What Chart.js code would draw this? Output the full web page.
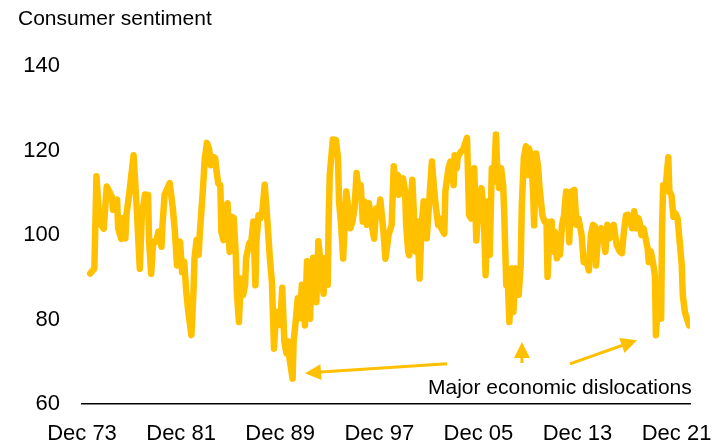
<!DOCTYPE html>
<html>
<head>
<meta charset="utf-8">
<title>Consumer sentiment</title>
<script src="https://cdn.jsdelivr.net/npm/chart.js@4.4.1/dist/chart.umd.min.js"></script>
<style>
  html, body { margin: 0; padding: 0; background: #fff; }
  canvas { display: block; }
</style>
</head>
<body>
<canvas id="chart" width="712" height="444"></canvas>
<script>
"use strict";

/* ── Data (months counted from Dec 1973) ─────────────────── */
const months = [
  8, 12, 14, 17, 21, 24, 27, 29, 30, 34, 35, 38, 40, 42, 43, 46, 50, 53, 56, 58,
  61, 64, 65, 67, 69, 72, 74, 77, 78, 80, 85, 88, 90, 92, 95, 97, 99, 101, 103, 106,
  108, 109, 111, 113, 114, 117, 119, 121, 123, 125, 127, 129, 130, 132, 134, 135, 137, 138, 141, 143,
  145, 147, 149, 150, 152, 154, 156, 158, 159, 162, 164, 166, 168, 169, 171, 173, 175, 177, 179, 182,
  184, 186, 188, 190, 192, 194, 196, 198, 200, 201, 204, 205, 207, 209, 211, 213, 214, 216, 218, 219,
  221, 222, 224, 226, 227, 229, 230, 232, 234, 235, 238, 239, 240, 243, 246, 248, 249, 251, 253, 256,
  258, 260, 262, 264, 266, 268, 270, 272, 274, 276, 278, 280, 283, 285, 287, 289, 292, 294, 297, 300,
  302, 304, 306, 307, 309, 311, 313, 314, 316, 317, 318, 320, 322, 323, 325, 327, 329, 331, 333, 334,
  337, 339, 341, 343, 345, 347, 348, 351, 352, 355, 357, 360, 361, 363, 364, 367, 369, 373, 375, 377,
  380, 382, 384, 387, 389, 391, 393, 395, 397, 399, 401, 402, 404, 406, 408, 409, 411, 412, 414, 415,
  417, 418, 420, 422, 423, 425, 426, 428, 430, 432, 433, 435, 437, 438, 440, 442, 443, 446, 448, 450,
  451, 453, 455, 456, 458, 460, 461, 463, 465, 467, 469, 471, 472, 474, 477, 479, 481, 484, 486, 488,
  491, 493, 495, 497, 498, 500, 503, 505, 507, 509, 511, 513, 515, 517, 518, 521, 523, 525, 527, 529,
  531, 533, 535, 537, 539, 540, 542, 544, 546, 548, 549, 551, 553, 555, 556, 558, 561, 562, 563, 565,
  568, 569, 571, 573, 575, 577, 579, 581, 582, 584, 585, 588
];

const sentiment = [
  90.9, 92.1, 113.9, 103.0, 101.5, 111.5, 110.0, 109.0, 106.0, 108.4, 101.6, 99.1, 104.0, 99.2, 104.7, 110.3, 118.9, 106.3, 92.0, 104.7,
  109.6, 109.5, 98.4, 90.8, 98.4, 98.4, 100.8, 97.2, 102.4, 109.5, 112.3, 106.3, 100.8, 92.8, 98.4, 91.2, 93.7, 86.6, 81.8, 76.3,
  86.6, 94.5, 98.8, 95.3, 100.0, 110.3, 118.2, 121.8, 120.5, 116.5, 118.5, 118.2, 115.8, 112.2, 111.8, 100.8, 98.8, 106.3, 107.5, 96.0,
  104.3, 104.0, 95.3, 86.6, 79.4, 89.7, 85.8, 88.2, 94.5, 98.1, 98.4, 103.2, 88.1, 98.4, 104.7, 104.0, 106.3, 111.9, 105.5, 94.5,
  88.9, 73.1, 81.8, 81.8, 78.7, 87.5, 74.8, 72.0, 74.8, 70.8, 66.0, 74.8, 79.5, 85.0, 80.3, 88.2, 85.0, 78.6, 93.8, 90.5,
  80.2, 90.5, 94.6, 86.6, 84.1, 98.5, 96.1, 90.5, 86.1, 94.5, 88.2, 104.0, 114.2, 122.6, 122.5, 118.2, 107.9, 102.4, 94.4, 110.3,
  106.3, 101.6, 103.2, 106.3, 114.7, 110.3, 111.8, 103.2, 107.9, 102.4, 107.5, 103.2, 99.1, 106.3, 104.7, 108.4, 100.8, 94.4, 100.0, 102.4,
  116.3, 110.3, 114.2, 109.5, 112.6, 113.4, 110.3, 102.4, 96.1, 95.2, 106.3, 113.1, 102.4, 96.1, 103.2, 89.7, 102.4, 108.0, 102.4, 99.2,
  110.3, 117.4, 111.1, 106.3, 102.4, 103.9, 101.6, 100.3, 110.3, 115.8, 117.4, 111.8, 118.9, 115.8, 118.5, 119.7, 120.1, 123.0, 104.7, 103.9,
  115.8, 98.7, 106.3, 111.1, 106.3, 90.5, 107.9, 95.3, 115.8, 112.6, 123.8, 117.4, 111.1, 115.8, 111.8, 105.5, 88.1, 92.1, 79.4, 85.0,
  92.1, 81.8, 92.1, 86.6, 85.8, 92.9, 106.3, 118.2, 121.0, 114.2, 120.5, 118.9, 110.3, 102.3, 119.3, 115.8, 111.8, 104.7, 103.2, 103.2,
  90.1, 100.8, 103.2, 96.1, 100.8, 94.5, 97.6, 95.3, 102.4, 104.7, 110.3, 104.7, 98.3, 110.3, 110.7, 102.4, 103.9, 100.0, 93.6, 94.5,
  91.6, 100.0, 102.4, 102.0, 92.8, 100.0, 101.6, 100.0, 96.0, 102.4, 99.2, 101.6, 102.4, 99.2, 97.6, 96.1, 95.7, 100.8, 104.7, 104.8,
  103.2, 101.6, 105.6, 101.6, 104.0, 103.2, 100.0, 101.6, 99.2, 96.8, 93.6, 96.1, 93.7, 90.5, 76.3, 85.0, 80.2, 102.4, 111.8, 110.3,
  118.4, 110.3, 109.5, 104.3, 105.1, 103.9, 98.4, 92.9, 85.8, 81.8, 81.0, 78.6
];

const tickMonths = [0, 96, 192, 288, 384, 480, 576];
const tickLabels = ['Dec 73', 'Dec 81', 'Dec 89', 'Dec 97', 'Dec 05', 'Dec 13', 'Dec 21'];
const yTicks     = [60, 80, 100, 120, 140];

/* Annotation arrows in data units: [fromMonth, fromValue, toMonth, toValue] */
const arrows = [
  [353.6, 69.5, 216.0, 67.3],
  [426.2, 69.7, 426.2, 74.7],
  [472.7, 69.5, 537.6, 75.1],
];
const noteText  = 'Major economic dislocations';
const notePos   = [335.2, 63.8];

/* ── Styles ──────────────────────────────────────────────── */
const GOLD = '#FFC000';
const FONT = '"Liberation Sans", Arial, sans-serif';

/* ── Annotation plugin: header + arrows + note ───────────── */
const annotations = {
  id: 'annotations',
  afterDatasetsDraw(chart) {
    const { ctx, scales: { x, y } } = chart;
    ctx.save();

    ctx.fillStyle = '#000';
    ctx.font = `21px ${FONT}`;
    ctx.textBaseline = 'middle';
    ctx.textAlign = 'left';
    ctx.fillText('Consumer sentiment', 18, 19);

    ctx.fillText(noteText, x.getPixelForValue(notePos[0]), y.getPixelForValue(notePos[1]));

    ctx.strokeStyle = GOLD;
    ctx.fillStyle = GOLD;
    ctx.lineWidth = 3;
    arrows.forEach(([m0, v0, m1, v1]) => {
      const x0 = x.getPixelForValue(m0), y0 = y.getPixelForValue(v0);
      const x1 = x.getPixelForValue(m1), y1 = y.getPixelForValue(v1);
      const ang = Math.atan2(y1 - y0, x1 - x0);
      const head = 16, half = 8;
      const bx = x1 - head * Math.cos(ang), by = y1 - head * Math.sin(ang);
      ctx.beginPath();
      ctx.moveTo(x0, y0);
      ctx.lineTo(bx, by);
      ctx.stroke();
      ctx.beginPath();
      ctx.moveTo(x1, y1);
      ctx.lineTo(bx + half * Math.sin(ang), by - half * Math.cos(ang));
      ctx.lineTo(bx - half * Math.sin(ang), by + half * Math.cos(ang));
      ctx.closePath();
      ctx.fill();
    });
    ctx.restore();
  },
};

/* ── Chart ───────────────────────────────────────────────── */
new Chart(document.getElementById('chart'), {
  type: 'line',
  data: {
    datasets: [{
      data: months.map((m, i) => ({ x: m, y: sentiment[i] })),
      borderColor: GOLD,
      borderWidth: 6.5,
      borderJoinStyle: 'round',
      borderCapStyle: 'round',
      pointRadius: 0,
      tension: 0,
      fill: false,
    }],
  },
  options: {
    responsive: false,
    animation: false,
    layout: { padding: { top: 66, right: 22, left: 0, bottom: 0 } },
    plugins: {
      legend: { display: false },
      tooltip: { enabled: false },
    },
    scales: {
      x: {
        type: 'linear',
        min: 0,
        max: 589,
        grid: { display: false, drawTicks: false },
        border: { display: true, color: '#000', width: 1.5 },
        afterBuildTicks: s => { s.ticks = tickMonths.map(v => ({ value: v })); },
        afterFit: s => { s.height = 40; s.paddingLeft = 0; s.paddingRight = 0; },
        ticks: {
          autoSkip: false,
          maxRotation: 0,
          padding: 17,
          color: '#000',
          font: { family: FONT, size: 22 },
          callback: v => tickLabels[tickMonths.indexOf(v)],
        },
      },
      y: {
        min: 60,
        max: 140,
        grid: { display: false, drawTicks: false },
        border: { display: false },
        afterBuildTicks: s => { s.ticks = yTicks.map(v => ({ value: v })); },
        afterFit: s => { s.width = 82; },
        ticks: {
          padding: 22,
          color: '#000',
          font: { family: FONT, size: 22 },
        },
      },
    },
  },
  plugins: [annotations],
});
</script>
</body>
</html>
